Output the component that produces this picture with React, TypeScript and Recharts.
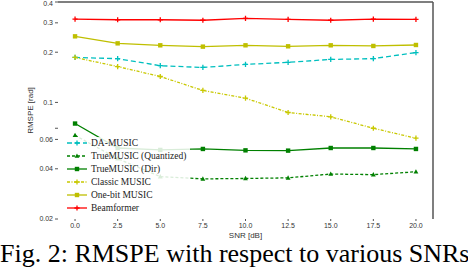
import { LineChart, Line, XAxis, YAxis, ReferenceLine } from "recharts";

const snr = [0, 2.5, 5, 7.5, 10, 12.5, 15, 17.5, 20];
const daMusic = [0.186, 0.183, 0.166, 0.162, 0.169, 0.174, 0.181, 0.183, 0.199];
const trueQuantized = [0.0635, 0.046, 0.0359, 0.0348, 0.035, 0.0353, 0.0372, 0.0369, 0.0384];
const trueDir = [0.0747, 0.0533, 0.0519, 0.0526, 0.0516, 0.0514, 0.0533, 0.0533, 0.0526];
const classicMusic = [0.186, 0.164, 0.143, 0.118, 0.106, 0.087, 0.082, 0.07, 0.061];
const oneBitMusic = [0.249, 0.226, 0.22, 0.216, 0.22, 0.217, 0.22, 0.218, 0.221];
const beamformer = [0.316, 0.313, 0.313, 0.311, 0.319, 0.315, 0.311, 0.316, 0.315];

const xTicks = [0, 2.5, 5, 7.5, 10, 12.5, 15, 17.5, 20];
const yTicks = [0.02, 0.04, 0.06, 0.07, 0.1, 0.2, 0.3, 0.4];

const data = snr.map((s, i) => ({
  snr: s,
  da: daMusic[i],
  tq: trueQuantized[i],
  td: trueDir[i],
  cl: classicMusic[i],
  ob: oneBitMusic[i],
  bf: beamformer[i],
}));

type Shape = "plus" | "square" | "triangle";

const series: { key: string; name: string; color: string; dash?: string; shape: Shape }[] = [
  { key: "da", name: "DA-MUSIC", color: "#00bfbf", dash: "5 3", shape: "plus" },
  { key: "tq", name: "TrueMUSIC (Quantized)", color: "#008000", dash: "3 2", shape: "triangle" },
  { key: "td", name: "TrueMUSIC (Dir)", color: "#008000", shape: "square" },
  { key: "cl", name: "Classic MUSIC", color: "#c8c800", dash: "3 1.5 1 1.5", shape: "plus" },
  { key: "ob", name: "One-bit MUSIC", color: "#bfbf00", shape: "square" },
  { key: "bf", name: "Beamformer", color: "#ff0000", shape: "plus" },
];

const marker = (shape: Shape, cx: number, cy: number, color: string, key?: string) => {
  if (shape === "square") {
    return <rect key={key} x={cx - 2.2} y={cy - 2.2} width={4.4} height={4.4} fill={color} />;
  }
  if (shape === "triangle") {
    return <polygon key={key} points={`${cx},${cy - 2.6} ${cx + 2.4},${cy + 1.8} ${cx - 2.4},${cy + 1.8}`} fill={color} />;
  }
  return (
    <path key={key} d={`M${cx - 2.6},${cy}H${cx + 2.6}M${cx},${cy - 2.6}V${cy + 2.6}`} stroke={color} strokeWidth={1.3} />
  );
};

// y tick labels; the top one is nudged down so it isn't clipped
const YTick = (props: any) => {
  const { x, y, payload } = props;
  const v = payload.value;
  if (v === 0.07) return <g />;
  return (
    <text
      x={x}
      y={v === 0.4 ? y + 2 : y}
      dy="0.35em"
      textAnchor="end"
      fontSize={7}
      fill="#333"
      fontFamily="Liberation Sans"
    >
      {String(v)}
    </text>
  );
};

// legend drawn as an overlay so it doesn't shrink the plot area
const LegendBox = () => (
  <div
    style={{
      position: "absolute",
      left: 64,
      top: 137,
      background: "rgba(255,255,255,0.85)",
      padding: "0 4px 0 2px",
    }}
  >
    {series.map((s) => (
      <div key={s.key} style={{ display: "flex", alignItems: "center", height: 12.9 }}>
        <svg width={22} height={10}>
          <line x1={1} y1={5} x2={21} y2={5} stroke={s.color} strokeWidth={1.3} strokeDasharray={s.dash} />
          {marker(s.shape, 11, 5, s.color)}
        </svg>
        <span style={{ marginLeft: 3, fontFamily: "Liberation Serif", fontSize: 9.5, color: "#222", whiteSpace: "nowrap" }}>
          {s.name}
        </span>
      </div>
    ))}
  </div>
);

export default function App() {
  return (
    <div style={{ position: "absolute", left: 0, top: 0, width: 468, height: 270, background: "#fff", overflow: "hidden" }}>
      <LineChart width={468} height={245} data={data} margin={{ top: 2, right: 35, bottom: 0, left: 0 }}>
        <XAxis
          dataKey="snr"
          type="number"
          domain={[-1, 21]}
          ticks={xTicks}
          interval={0}
          tickFormatter={(v: number) => v.toFixed(1)}
          axisLine={false}
          tickSize={2}
          height={26}
          tick={{ fontSize: 7, fill: "#333", fontFamily: "Liberation Sans" }}
          tickLine={{ stroke: "#555" }}
          label={{ value: "SNR [dB]", position: "insideBottom", offset: 7, fontSize: 8, fill: "#333", fontFamily: "Liberation Sans" }}
        />
        <YAxis
          scale="log"
          domain={[0.02, 0.4]}
          allowDataOverflow
          ticks={yTicks}
          interval={0}
          axisLine={false}
          tickSize={3}
          width={58}
          tick={<YTick />}
          tickLine={{ stroke: "#555" }}
          label={{
            value: "RMSPE [rad]",
            angle: -90,
            position: "insideLeft",
            offset: 30,
            fontSize: 8,
            fill: "#333",
            fontFamily: "Liberation Sans",
            style: { textAnchor: "middle" },
          }}
        />
        <ReferenceLine y={0.4} stroke="#555" strokeWidth={1.5} />
        <ReferenceLine x={21} stroke="#555" strokeWidth={1.5} />
        {series.map((s) => (
          <Line
            key={s.key}
            dataKey={s.key}
            name={s.name}
            stroke={s.color}
            strokeWidth={1.3}
            strokeDasharray={s.dash}
            isAnimationActive={false}
            dot={(p: any) => marker(s.shape, p.cx, p.cy, s.color, `${s.key}-${p.index}`)}
            activeDot={false}
          />
        ))}
      </LineChart>
      <LegendBox />
      <div
        style={{
          position: "absolute",
          left: 0,
          top: 242,
          width: 468,
          textAlign: "center",
          fontFamily: "Liberation Serif",
          fontSize: 26,
          lineHeight: "24px",
          color: "#000",
          whiteSpace: "nowrap",
        }}
      >
        Fig. 2: RMSPE with respect to various SNRs
      </div>
    </div>
  );
}
